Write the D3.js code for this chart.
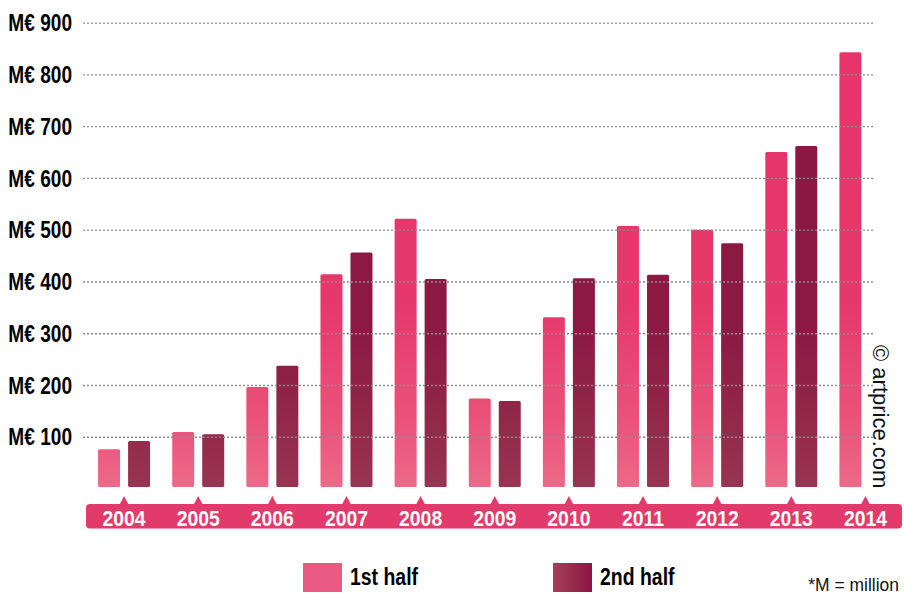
<!DOCTYPE html>
<html><head><meta charset="utf-8">
<script src="https://cdn.jsdelivr.net/npm/d3@7"></script>
<style>
body{margin:0;background:#fff}
.cond{font-family:"Liberation Sans",Arial,sans-serif}
</style>
</head><body>
<svg id="c" width="905" height="594"></svg>
<script>
const years = ["2004","2005","2006","2007","2008","2009","2010","2011","2012","2013","2014"];
const firstHalf  = [76,109,196,414,521,174,331,507,500,650,843];
const secondHalf = [92,105,237,456,405,169,406,413,474,662,null];
const seriesNames = ["1st half","2nd half"];
const yTicks = [100,200,300,400,500,600,700,800,900];
const footnote = "*M = million";
const copyright = "© artprice.com";

const svg = d3.select("#c");
const defs = svg.append("defs");

// horizontally condense text (the reference uses a condensed typeface)
function condense(sel, f){
  sel.each(function(){
    const n = this.getComputedTextLength();
    d3.select(this).attr("textLength", n * f).attr("lengthAdjust","spacingAndGlyphs");
  });
}

function vGrad(id, stops){
  const g = defs.append("linearGradient").attr("id", id)
    .attr("gradientUnits","userSpaceOnUse").attr("x1",0).attr("x2",0).attr("y1",22).attr("y2",489);
  stops.forEach(s => g.append("stop").attr("offset", s[0]).attr("stop-color", s[1]));
}
vGrad("g1", [[0,"#e7336a"],[0.6,"#e6386b"],[0.85,"#ea5279"],[1,"#ed6a89"]]);
vGrad("g2", [[0,"#8a1740"],[0.65,"#8b1942"],[0.88,"#932a4b"],[1,"#993454"]]);
const lg2 = defs.append("linearGradient").attr("id","lg2").attr("x1",0).attr("x2",1).attr("y1",0).attr("y2",0);
lg2.append("stop").attr("offset",0).attr("stop-color","#a53f5a");
lg2.append("stop").attr("offset",1).attr("stop-color","#8c1641");

const x = d3.scaleBand().domain(years).range([87, 902.5]);
const inner = d3.scaleBand().domain(seriesNames)
  .range([x.bandwidth()/2 - 26, x.bandwidth()/2 + 26]).paddingInner(8/30);
const y = d3.scaleLinear().domain([0, 900]).range([488.5, 22.7]);

const rows = years.map((yr, i) => ({year: yr, vals: [
  {s: seriesNames[0], v: firstHalf[i]},
  {s: seriesNames[1], v: secondHalf[i]}
].filter(d => d.v != null)}));

const fills = {"1st half":"url(#g1)","2nd half":"url(#g2)"};

svg.append("g").selectAll("g").data(rows).join("g")
  .attr("transform", d => `translate(${x(d.year)},0)`)
  .selectAll("rect").data(d => d.vals).join("rect")
  .attr("x", d => inner(d.s))
  .attr("width", inner.bandwidth())
  .attr("y", d => y(d.v))
  .attr("height", d => y(0) - 1.5 - y(d.v))
  .attr("rx", 1.5)
  .attr("fill", d => fills[d.s]);

// y axis with dotted gridlines
const yAxis = svg.append("g").attr("transform","translate(873,0)")
  .call(d3.axisLeft(y).tickValues(yTicks).tickSize(790).tickPadding(11).tickFormat(d => "M€ " + d));
yAxis.select(".domain").remove();
yAxis.selectAll(".tick line").attr("stroke","#8c8c8c").attr("stroke-width",1.3).attr("stroke-dasharray","2,2");
yAxis.selectAll(".tick text").attr("class","cond").attr("fill","#000")
  .attr("font-size",23).attr("font-weight","bold").attr("dy","0.35em")
  .call(condense, 0.83);

// x band
svg.append("rect").attr("x",86).attr("y",504).attr("width",816).attr("height",24.5)
  .attr("rx",4).attr("fill","#e23a6b");
svg.append("g").selectAll("path").data(years).join("path")
  .attr("d", d => { const c = x(d) + x.bandwidth()/2; return `M${c-4.5},504.5L${c},496L${c+4.5},504.5Z`; })
  .attr("fill","#e23a6b");
const xAxis = svg.append("g").attr("transform","translate(0,504)")
  .call(d3.axisBottom(x).tickSize(0).tickPadding(0));
xAxis.select(".domain").remove();
xAxis.selectAll(".tick text").attr("class","cond").attr("fill","#fff")
  .attr("font-size",22).attr("font-weight","bold").attr("y",21.5).attr("dy",0)
  .call(condense, 0.88);

// legend
const legend = [{name: seriesNames[0], x: 303, fill: "#eb5a80"}, {name: seriesNames[1], x: 553, fill: "url(#lg2)"}];
const lgG = svg.append("g").selectAll("g").data(legend).join("g");
lgG.append("rect").attr("x", d => d.x).attr("y",563).attr("width",39).attr("height",29).attr("fill", d => d.fill);
lgG.append("text").attr("class","cond").attr("x", d => d.x + 47).attr("y",585)
  .attr("font-size",24).attr("font-weight","bold").attr("fill","#000").text(d => d.name)
  .call(condense, 0.81);

svg.append("text").attr("class","cond").attr("x",899).attr("y",591).attr("text-anchor","end")
  .attr("font-size",18).attr("fill","#111").text(footnote)
  .call(condense, 0.97);

svg.append("text").attr("transform","translate(873,345) rotate(90)")
  .attr("font-family","'Liberation Sans',Arial,sans-serif").attr("font-size",22).attr("fill","#111")
  .text(copyright);
</script>
</body></html>
